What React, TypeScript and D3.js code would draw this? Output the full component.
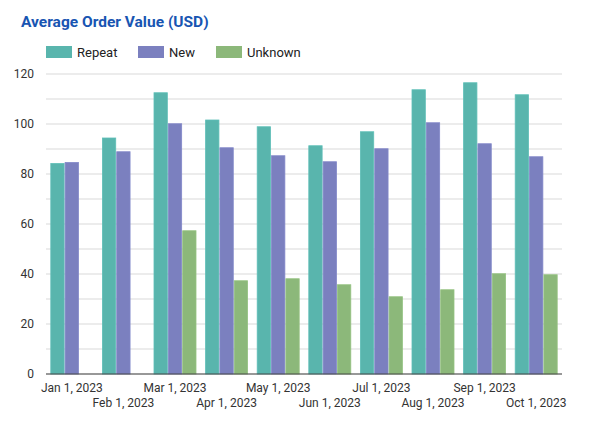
import React from "react";
import * as d3 from "d3";

const categories = [
  "Jan 1, 2023", "Feb 1, 2023", "Mar 1, 2023", "Apr 1, 2023", "May 1, 2023",
  "Jun 1, 2023", "Jul 1, 2023", "Aug 1, 2023", "Sep 1, 2023", "Oct 1, 2023",
];
const seriesNames = ["Repeat", "New", "Unknown"];
const repeatValues = [84.2, 94.4, 112.5, 101.6, 98.9, 91.3, 96.9, 113.7, 116.5, 111.7];
const newValues = [84.6, 88.9, 100.1, 90.5, 87.3, 84.9, 90.1, 100.5, 92.1, 86.9];
const unknownValues: (number | null)[] = [null, null, 57.3, 37.3, 38.1, 35.7, 30.9, 33.7, 40.1, 39.7];
const seriesColors = ["#59b5ad", "#7b80bf", "#8cb87a"];
const yTicks = [0, 20, 40, 60, 80, 100, 120];

const W = 590;
const H = 437;
const left = 46;
const right = 562;
const top = 74;
const bottom = 374;

export default function App() {
  const data = [repeatValues, newValues, unknownValues];
  const y = d3.scaleLinear().domain([0, 120]).range([bottom, top]);
  const x0 = d3.scaleBand<string>().domain(categories).range([left, right]).padding(0);
  const groupW = 42;
  const x1 = d3.scaleBand<string>().domain(seriesNames).range([0, groupW]).paddingInner(0.07);
  const grid = d3.range(0, 121, 10);
  const font = "Roboto, 'Noto Sans', sans-serif";

  return (
    <svg width={W} height={H} style={{ position: "absolute", left: 0, top: 0, background: "#fff" }}>
      <text x={21} y={27} fontFamily={font} fontWeight={700} fontSize={15.5} fill="#1855b2">
        Average Order Value (USD)
      </text>
      {seriesNames.map((s, i) => {
        const lx = [46, 138, 216][i];
        return (
          <g key={s}>
            <rect x={lx} y={46} width={26} height={12} fill={seriesColors[i]} />
            <text x={lx + 31} y={57} fontFamily={font} fontSize={13} fill="#222">
              {s}
            </text>
          </g>
        );
      })}
      {grid.map((v) => (
        <line key={v} x1={left} x2={right} y1={y(v)} y2={y(v)} stroke="#d9d9d9" strokeWidth={1} />
      ))}
      {yTicks.map((v) => (
        <text key={v} x={34} y={y(v) + 4} textAnchor="end" fontFamily={font} fontSize={12} fill="#333">
          {v}
        </text>
      ))}
      {categories.map((c, ci) => {
        const gx = x0(c)! + (x0.bandwidth() - groupW) / 2;
        return (
          <g key={c}>
            {seriesNames.map((s, si) => {
              const v = data[si][ci];
              if (v == null) return null;
              return (
                <rect
                  key={s}
                  x={gx + x1(s)!}
                  y={y(v)}
                  width={x1.bandwidth()}
                  height={bottom - y(v)}
                  fill={seriesColors[si]}
                  stroke={d3.color(seriesColors[si])!.brighter(0.15).toString()}
                  strokeWidth={0.8}
                />
              );
            })}
            <text
              x={x0(c)! + x0.bandwidth() / 2}
              y={ci % 2 === 0 ? 392 : 407}
              textAnchor="middle"
              fontFamily={font}
              fontSize={12}
              fill="#333"
            >
              {c}
            </text>
          </g>
        );
      })}
      <line x1={left} x2={right} y1={bottom} y2={bottom} stroke="#444" strokeWidth={1.2} />
    </svg>
  );
}
